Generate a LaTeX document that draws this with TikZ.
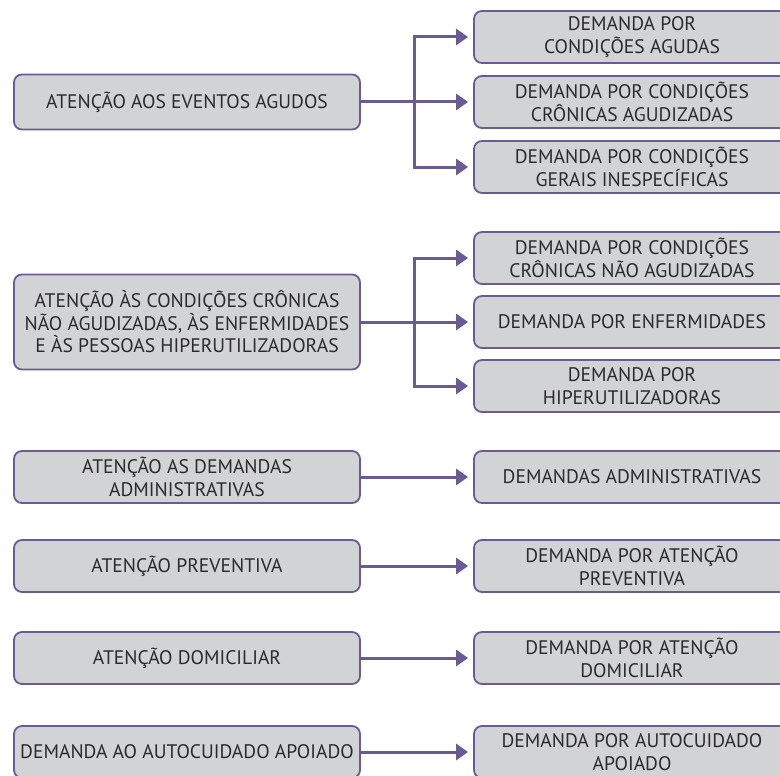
\documentclass[tikz,border=0pt]{standalone}
\usepackage{fontspec}
\setmainfont{PT Sans}
\usetikzlibrary{arrows.meta,positioning}
\definecolor{roxo}{HTML}{6B5B95}
\definecolor{cinza}{HTML}{D1D3D4}
\definecolor{texto}{HTML}{2B2A2C}

\begin{document}
\begin{tikzpicture}[x=1pt,y=-1pt,->,>={Triangle[length=12pt,width=16pt]},shorten >=5pt,line width=3pt,draw=roxo,
    main node/.style={draw=roxo,fill=cinza,line width=1.8pt,rounded corners=8pt,align=center,text=texto,
        minimum height=52pt,inner sep=2pt,font=\fontsize{19.6}{22.5}\selectfont},
    left node/.style={main node,minimum width=346pt},
    right node/.style={main node,minimum width=316pt}]

            \clip (0,0) rectangle (780,776);

            % eventos agudos
            \node[left node, minimum height=55pt] (1) at (187,102) {ATENÇÃO AOS EVENTOS AGUDOS};
            \node[right node] (2) [right of = 1, node distance=445pt]{DEMANDA POR CONDIÇÕES\\CRÔNICAS AGUDIZADAS};
            \node[right node] (3) [above of = 2, node distance=65pt]{DEMANDA POR\\CONDIÇÕES AGUDAS};
            \node[right node] (4) [below of = 2, node distance=65pt]{DEMANDA POR CONDIÇÕES\\GERAIS INESPECÍFICAS};

            % condicoes cronicas
            \node[left node, minimum height=95pt] (5) at (187,322) {ATENÇÃO ÀS CONDIÇÕES CRÔNICAS\\NÃO AGUDIZADAS, ÀS ENFERMIDADES\\E ÀS PESSOAS HIPERUTILIZADORAS};
            \node[right node] (6) [right of = 5, node distance=445pt]{DEMANDA POR ENFERMIDADES};
            \node[right node] (7) [above of = 6, node distance=64pt]{DEMANDA POR CONDIÇÕES\\CRÔNICAS NÃO AGUDIZADAS};
            \node[right node] (8) [below of = 6, node distance=64pt]{DEMANDA POR\\HIPERUTILIZADORAS};

            \node[left node] (9) at (187,477) {ATENÇÃO AS DEMANDAS\\ADMINISTRATIVAS};
            \node[right node] (10) [right of = 9, node distance=445pt]{DEMANDAS ADMINISTRATIVAS};
            \node[left node] (11) at (187,566) {ATENÇÃO PREVENTIVA};
            \node[right node] (12) [right of = 11, node distance=445pt]{DEMANDA POR ATENÇÃO\\PREVENTIVA};
            \node[left node] (13) at (187,658) {ATENÇÃO DOMICILIAR};
            \node[right node] (14) [right of = 13, node distance=445pt]{DEMANDA POR ATENÇÃO\\DOMICILIAR};
            \node[left node] (15) at (187,752) {DEMANDA AO AUTOCUIDADO APOIADO};
            \node[right node] (16) [right of = 15, node distance=445pt]{DEMANDA POR AUTOCUIDADO\\APOIADO};

            \draw (1) -- (2);
            \draw (1.east) -- ++(54,0) |- (3);
            \draw (1.east) -- ++(54,0) |- (4);
            \draw (5) -- (6);
            \draw (5.east) -- ++(54,0) |- (7);
            \draw (5.east) -- ++(54,0) |- (8);
            \draw (9) -- (10);
            \draw (11) -- (12);
            \draw (13) -- (14);
            \draw (15) -- (16);

            ;
        \end{tikzpicture}
\end{document}
